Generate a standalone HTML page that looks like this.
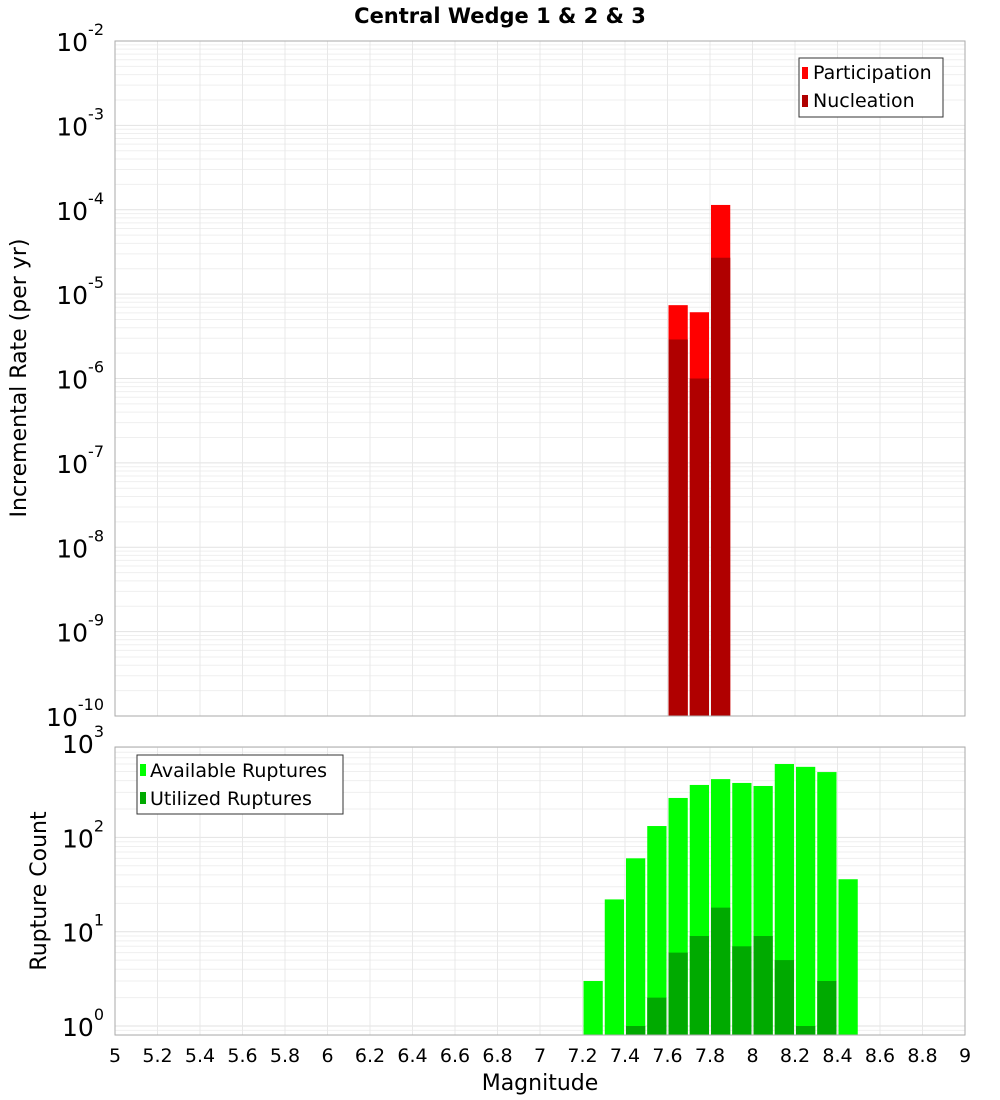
<!DOCTYPE html>
<html><head><meta charset="utf-8"><style>
body{margin:0;background:#fff;}
svg{display:block;font-family:"DejaVu Sans","Liberation Sans",sans-serif;}
</style></head><body>
<svg id="chart" width="1000" height="1100" viewBox="0 0 1000 1100">
<text x="500" y="23" text-anchor="middle" font-size="21" font-weight="bold">Central Wedge 1 &amp; 2 &amp; 3</text>
<g id="top"></g><g id="bot"></g>
<text transform="translate(26,378) rotate(-90)" text-anchor="middle" font-size="22">Incremental Rate (per yr)</text>
<text transform="translate(46,891) rotate(-90)" text-anchor="middle" font-size="22">Rupture Count</text>
<text x="540" y="1090" text-anchor="middle" font-size="22">Magnitude</text>
</svg>
<script>
const magBins=[7.6,7.7,7.8];
const participation=[7.4e-6,6.1e-6,1.14e-4];
const nucleation=[2.9e-6,1.0e-6,2.7e-5];
const countBins=[7.2,7.3,7.4,7.5,7.6,7.7,7.8,7.9,8.0,8.1,8.2,8.3,8.4];
const available=[3,22,60,132,262,360,415,378,351,600,560,493,36];
const utilized=[0,0,1,2,6,9,18,7,9,5,1,3,0];
const xTicks=[5,5.2,5.4,5.6,5.8,6,6.2,6.4,6.6,6.8,7,7.2,7.4,7.6,7.8,8,8.2,8.4,8.6,8.8,9];
const topExps=[-2,-3,-4,-5,-6,-7,-8,-9,-10];
const botExps=[3,2,1,0];
const NS="http://www.w3.org/2000/svg";
const X0=115,X1=965;
function x(m){return X0+(m-5)/4*(X1-X0);}
function yTop(v){return 41+(-2-Math.log10(v))*(716-41)/8;}
function yBot(v){return 1026-94.3*Math.log10(v);}
function mk(p,tag,a){const e=document.createElementNS(NS,tag);for(const k in a)e.setAttribute(k,a[k]);p.appendChild(e);return e;}
function grid(g,top,bot,yf,lo,hi){
  for(let d=lo;d<=hi;d++)for(let k=1;k<10;k++){const v=k*Math.pow(10,d);const y=yf(v);if(y<top-0.5||y>bot+0.5)continue;
    const l=mk(g,'line',{x1:X0,x2:X1,y1:y,y2:y,stroke:k==1?'#e2e2e2':'#efefef','stroke-width':1});
    
    }
  xTicks.forEach(t=>{const l=mk(g,'line',{x1:x(t),x2:x(t),y1:top,y2:bot,stroke:'#e8e8e8'});
    
    });
}
function ylabel(g,y,e){const t=mk(g,'text',{x:104,y:y+10,'text-anchor':'end','font-size':25});
  
  
  t.innerHTML='10<tspan dy="-16" font-size="16">'+e+'</tspan>';
}
// top panel
const gt=document.getElementById('top');
grid(gt,41,716,yTop,-10,-2);
magBins.forEach((m,i)=>{
  const yp=yTop(participation[i]);
  const r=mk(gt,'rect',{x:x(m)+1,y:yp,width:x(m+0.1)-x(m)-2,height:716-yp,fill:'#ff0000'});
  
  
  const yn=yTop(nucleation[i]);
  const r2=mk(gt,'rect',{x:x(m)+1,y:yn,width:x(m+0.1)-x(m)-2,height:716-yn,fill:'#b00000'});
  
  
});
mk(gt,'rect',{x:X0,y:41,width:X1-X0,height:675,fill:'none',stroke:'#aaa'});
topExps.forEach(e=>ylabel(gt,yTop(Math.pow(10,e)),e));
// legend top
const lt=mk(gt,'g',{});


mk(lt,'rect',{x:799,y:58,width:144,height:59,fill:'#fff',stroke:'#333'});
mk(lt,'rect',{x:802,y:67,width:6,height:12,fill:'#ff0000'});
mk(lt,'rect',{x:802,y:95,width:6,height:12,fill:'#b00000'});
const t1=mk(lt,'text',{x:813,y:79,'font-size':19});t1.textContent='Participation';


const t2=mk(lt,'text',{x:813,y:107,'font-size':19});t2.textContent='Nucleation';


// bottom panel
const gb=document.getElementById('bot');
grid(gb,747,1035,yBot,-1,3);
countBins.forEach((m,i)=>{
  const ya=yBot(available[i]);
  const r=mk(gb,'rect',{x:x(m)+1,y:ya,width:x(m+0.1)-x(m)-2,height:1035-ya,fill:'#00ff00'});
  
  
  if(utilized[i]>0){const yu=yBot(utilized[i]);
  const r2=mk(gb,'rect',{x:x(m)+1,y:yu,width:x(m+0.1)-x(m)-2,height:1035-yu,fill:'#00aa00'});
  
  }
});
mk(gb,'rect',{x:X0,y:747,width:X1-X0,height:288,fill:'none',stroke:'#aaa'});
botExps.forEach(e=>ylabel(gb,yBot(Math.pow(10,e)),e));
xTicks.forEach(t=>{const s=mk(gb,'text',{x:x(t),y:1062,'text-anchor':'middle','font-size':19});
  s.textContent=String(t);
  
  });
const lb=mk(gb,'g',{});


mk(lb,'rect',{x:137,y:755,width:206,height:59,fill:'#fff',stroke:'#333'});
mk(lb,'rect',{x:140,y:764,width:6,height:12,fill:'#00ff00'});
mk(lb,'rect',{x:140,y:792,width:6,height:12,fill:'#00aa00'});
const t3=mk(lb,'text',{x:150,y:777,'font-size':19});t3.textContent='Available Ruptures';


const t4=mk(lb,'text',{x:150,y:805,'font-size':19});t4.textContent='Utilized Ruptures';


</script>
</body></html>
